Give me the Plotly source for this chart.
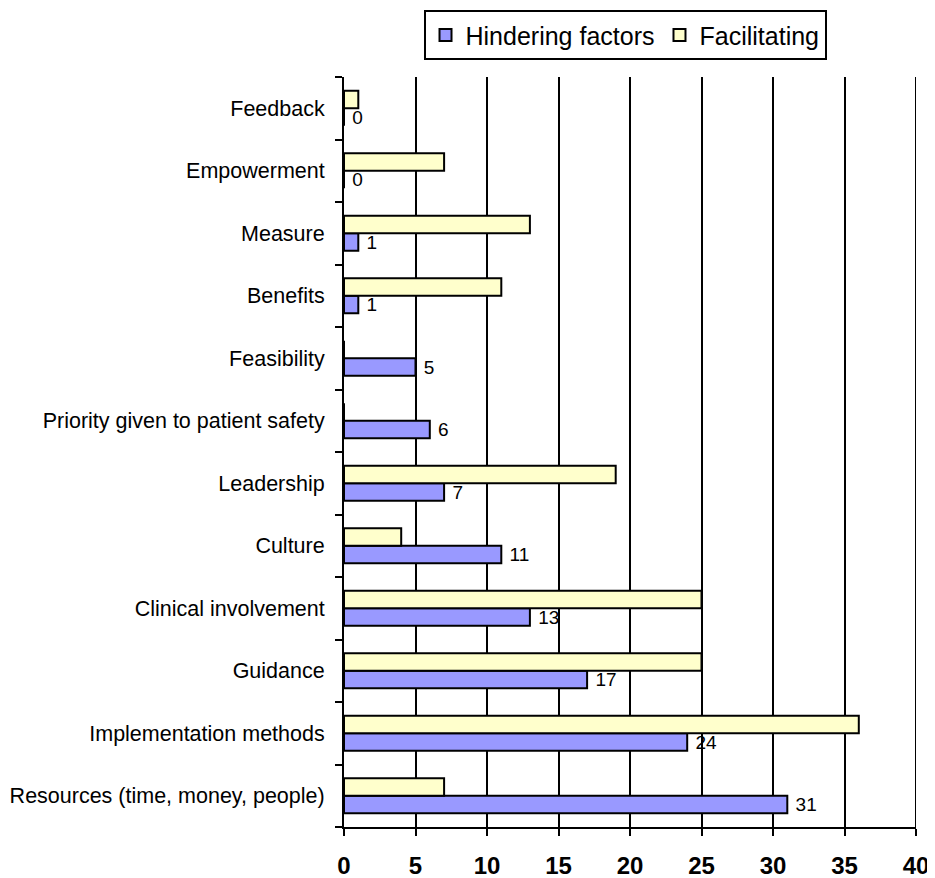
import plotly.graph_objects as go

categories = ["Resources (time, money, people)", "Implementation methods", "Guidance",
              "Clinical involvement", "Culture", "Leadership", "Priority given to patient safety",
              "Feasibility", "Benefits", "Measure", "Empowerment", "Feedback"]
hindering = [31, 24, 17, 13, 11, 7, 6, 5, 1, 1, 0, 0]
facilitating = [7, 36, 25, 25, 4, 19, 0, 0, 11, 13, 7, 1]
x_ticks = [0, 5, 10, 15, 20, 25, 30, 35, 40]

FONT = "Arial, Liberation Sans, sans-serif"

fig = go.Figure()
fig.add_trace(go.Bar(
    y=categories, x=hindering, orientation="h", name="Hindering factors",
    marker=dict(color="#9999FF", line=dict(color="black", width=2)),
    texttemplate=" %{x}", textposition="outside", cliponaxis=False, constraintext="none",
    textfont=dict(family=FONT, size=19, color="black"),
))
fig.add_trace(go.Bar(
    y=categories, x=facilitating, orientation="h", name="Facilitating",
    marker=dict(color="#FFFFCC", line=dict(color="black", width=2)),
))

# gridline at the right end of the value axis (last tick)
fig.add_shape(type="line", xref="x", yref="paper", x0=x_ticks[-1], x1=x_ticks[-1],
              y0=0, y1=1, line=dict(color="black", width=2), layer="below")

# page has an 8px body margin, so the figure is sized 927x870
fig.update_layout(
    width=927, height=870,
    barmode="group", bargap=0.44, bargroupgap=0,
    margin=dict(l=336, r=19, t=69, b=51, autoexpand=False),
    plot_bgcolor="white", paper_bgcolor="white",
    font=dict(family=FONT, size=21, color="black"),
    showlegend=True,
    legend=dict(orientation="h", x=0.139, xanchor="left", y=1.089, yanchor="top",
                bordercolor="black", borderwidth=2, font=dict(family=FONT, size=25),
                itemwidth=30, traceorder="normal"),
    xaxis=dict(range=[0, 40], tickvals=x_ticks, showgrid=True, gridcolor="black", gridwidth=2,
               showline=True, linecolor="black", linewidth=2, ticks="outside", ticklen=7,
               tickcolor="black", tickwidth=2, zeroline=False, ticklabelstandoff=9,
               tickfont=dict(family=FONT, size=24, color="black", weight="bold")),
    yaxis=dict(showline=True, linecolor="black", linewidth=2, ticks="outside", ticklen=7,
               tickcolor="black", tickwidth=2, tickson="boundaries", showgrid=False,
               ticklabelstandoff=13,
               tickfont=dict(family=FONT, size=21.5, color="black")),
)

fig.write_html("out.html")
